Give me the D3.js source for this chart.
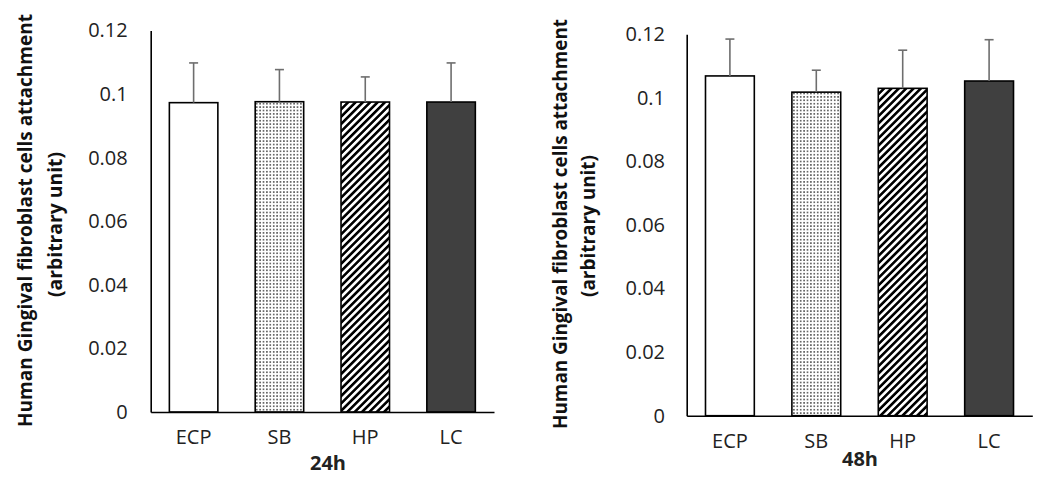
<!DOCTYPE html>
<html>
<head>
<meta charset="utf-8">
<script src="https://cdn.jsdelivr.net/npm/d3@7"></script>
<style>
  html, body { margin: 0; padding: 0; background: #fff; }
  svg { display: block; font-family: "Open Sans", sans-serif; }
</style>
</head>
<body>
<svg id="chart" width="1042" height="477"></svg>
<script>
// ---- data ----
const categories = ["ECP", "SB", "HP", "LC"];
const means24 = [0.0973, 0.0976, 0.0975, 0.0975];
const errors24 = [0.0125, 0.0101, 0.0079, 0.0123];
const means48 = [0.1069, 0.1018, 0.1030, 0.1053];
const errors48 = [0.0116, 0.0069, 0.0120, 0.0130];
const yTicks = [0, 0.02, 0.04, 0.06, 0.08, 0.1, 0.12];
const yTickLabels = ["0", "0.02", "0.04", "0.06", "0.08", "0.1", "0.12"];
const yTitleLines = ["Human Gingival fibroblast cells attachment", "(arbitrary unit)"];
const panelTitles = ["24h", "48h"];

const svg = d3.select("#chart");
const defs = svg.append("defs");

// dotted pattern (SB)
const dots = defs.append("pattern").attr("id", "dots")
  .attr("patternUnits", "userSpaceOnUse").attr("width", 3.4).attr("height", 3.4);
dots.append("rect").attr("width", 3.4).attr("height", 3.4).attr("fill", "#fff");
dots.append("rect").attr("x", 0.9).attr("y", 0.9).attr("width", 1.6).attr("height", 1.6).attr("fill", "#555");

// hatch pattern (HP)
const hatch = defs.append("pattern").attr("id", "hatch")
  .attr("patternUnits", "userSpaceOnUse").attr("width", 5.2).attr("height", 10)
  .attr("patternTransform", "rotate(45)");
hatch.append("rect").attr("width", 5.2).attr("height", 10).attr("fill", "#fff");
hatch.append("rect").attr("x", 0).attr("y", 0).attr("width", 2.6).attr("height", 10).attr("fill", "#000");

const fills = ["#ffffff", "url(#dots)", "url(#hatch)", "#404040"];

const panels = [
  { means: means24, errors: errors24, title: panelTitles[0],
    x0: 150.7, x1: 494, yBase: 412, yTop: 30.5, tickPad: 23,
    titleX: 328, titleY: 470,
    yTitle: [{x: 32, y: 220.5, len: 413}, {x: 62, y: 224.5, len: 145}] },
  { means: means48, errors: errors48, title: panelTitles[1],
    x0: 686.7, x1: 1032.3, yBase: 415.7, yTop: 34.3, tickPad: 21.7,
    titleX: 860, titleY: 466,
    yTitle: [{x: 567, y: 224, len: 410}, {x: 595, y: 226, len: 142}] }
];

panels.forEach(p => {
  const g = svg.append("g");
  const x = d3.scaleBand().domain(categories).range([p.x0, p.x1])
    .paddingInner(0.435).paddingOuter(0.2175);
  const y = d3.scaleLinear().domain([0, 0.12]).range([p.yBase, p.yTop]);

  // y axis
  const yAxis = d3.axisLeft(y).tickValues(yTicks)
    .tickFormat((d, i) => yTickLabels[i]).tickSize(0).tickPadding(p.tickPad);
  const ya = g.append("g").attr("transform", `translate(${p.x0},0)`).call(yAxis);
  ya.select(".domain").attr("stroke", "#000").attr("stroke-width", 1.6);
  ya.selectAll("text").attr("font-size", 20).attr("fill", "#222")
    .attr("font-family", "'Open Sans', sans-serif");

  // bars
  g.selectAll("rect.bar").data(p.means).enter().append("rect")
    .attr("class", "bar")
    .attr("x", (d, i) => x(categories[i]))
    .attr("width", x.bandwidth())
    .attr("y", d => y(d))
    .attr("height", d => y(0) - y(d))
    .attr("fill", (d, i) => fills[i])
    .attr("stroke", "#000").attr("stroke-width", 1.6);

  // error bars (upper only)
  const eg = g.append("g").attr("stroke", "#6e6e6e").attr("stroke-width", 1.6);
  p.means.forEach((m, i) => {
    const cx = x(categories[i]) + x.bandwidth() / 2;
    eg.append("line").attr("x1", cx).attr("x2", cx)
      .attr("y1", y(m)).attr("y2", y(m + p.errors[i]));
    eg.append("line").attr("x1", cx - 4.5).attr("x2", cx + 4.5)
      .attr("y1", y(m + p.errors[i])).attr("y2", y(m + p.errors[i]));
  });

  // x axis
  const xAxis = d3.axisBottom(x).tickSize(0).tickPadding(18);
  const xa = g.append("g").attr("transform", `translate(0,${p.yBase})`).call(xAxis);
  xa.select(".domain").attr("stroke", "#000").attr("stroke-width", 1.6);
  xa.selectAll("text").attr("font-size", 20).attr("fill", "#222")
    .attr("font-family", "'Open Sans', sans-serif");

  // panel title
  g.append("text").attr("x", p.titleX).attr("y", p.titleY)
    .attr("text-anchor", "middle").attr("font-size", 20).attr("font-weight", "bold")
    .attr("fill", "#222").text(p.title);

  // y title: rotated, horizontally condensed via transform so its box is exact
  p.yTitle.forEach((t, i) => {
    const txt = g.append("text")
      .attr("text-anchor", "middle")
      .attr("font-size", 20).attr("font-weight", "bold").attr("fill", "#111")
      .text(yTitleLines[i]);
    const natural = txt.node().getComputedTextLength() || t.len;
    const sx = Math.min(1, t.len / natural);
    txt.attr("transform", `translate(${t.x},${t.y}) rotate(-90) scale(${sx},1)`);
  });
});
</script>
</body>
</html>
